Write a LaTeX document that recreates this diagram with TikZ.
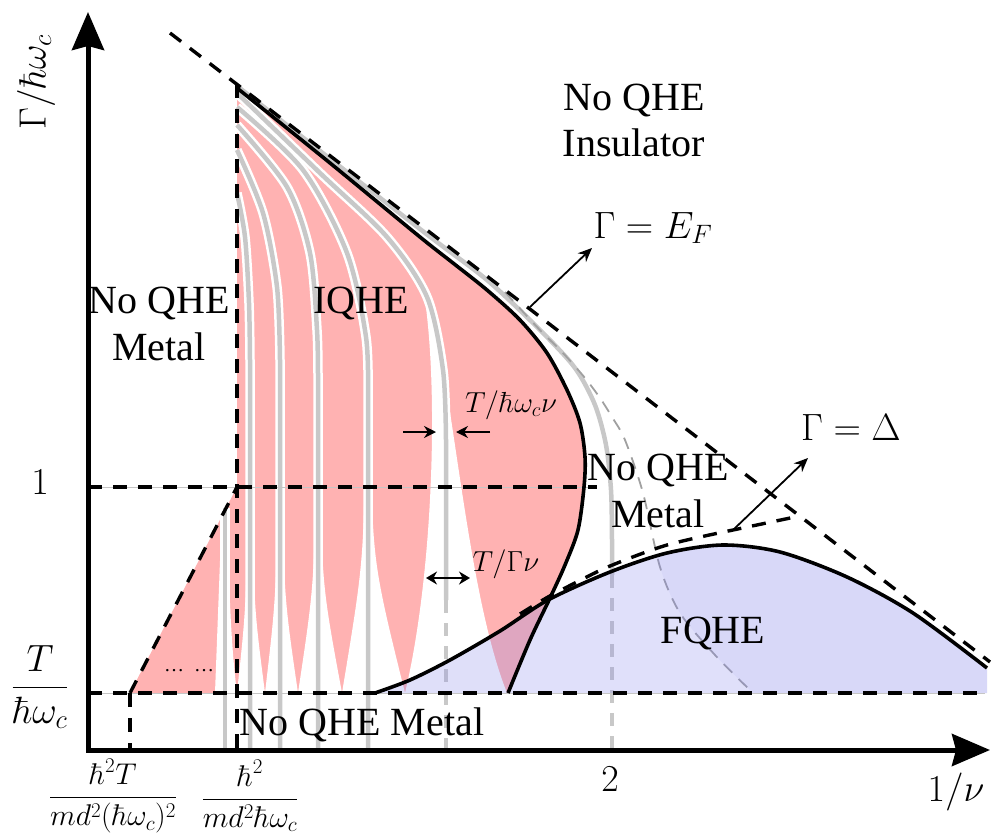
\RequirePackage{fix-cm}
\documentclass[tikz,border=0pt]{standalone}
\usepackage{amsmath}
\usepackage[no-math]{fontspec}
\setmainfont{Liberation Serif}
\usetikzlibrary{arrows.meta}
\definecolor{pinkq}{RGB}{255,178,178}
\definecolor{grayq}{RGB}{200,200,200}
\definecolor{grayd}{RGB}{160,160,160}
\definecolor{blueq}{RGB}{135,135,235}
\begin{document}
\begin{tikzpicture}[x=1pt,y=-1pt,
  txt/.style={font=\fontsize{40}{47}\selectfont, inner sep=0pt, anchor=base},
  mlab/.style={font=\fontsize{38}{44}\selectfont, inner sep=0pt},
  slab/.style={font=\fontsize{29}{34}\selectfont, inner sep=0pt},
  dsh/.style={line width=3.4pt, dash pattern=on 14pt off 11pt},
  grayln/.style={grayq, line width=4.5pt},
  halo/.style={white, line width=9.5pt},
  thinarr/.style={line width=1.8pt, -{Stealth[length=14pt,width=12pt]}},
  bound/.style={line width=3.6pt}]
\useasboundingbox (0,0) rectangle (998,840);

% IQHE pink region
\fill[pinkq] (130,693) -- (237,487) -- (237,88) -- plot[smooth] coordinates {(237,88) (330,163) (420,237) (453,263) (487,290) (520,320) (547,353) (567,390) (580,423) (585,457) (584,487) (578,530) (565,565) (550,598) (530,640) (508,693)} -- cycle;

% white wedges
\fill[white] (222,508) -- (215,693) -- (237,693) .. controls (230,640) and (228,560) .. (228,508) -- cycle;
\fill[white] (247,440) .. controls (247,600) .. (237,693) -- (265,693) .. controls (253,600) .. (253,440) -- cycle;
\fill[white] (277,430) .. controls (277,590) .. (265,693) -- (298,693) .. controls (283,590) .. (283,430) -- cycle;
\fill[white] (315,430) .. controls (315,580) .. (298,693) -- (342,693) .. controls (321,580) .. (321,430) -- cycle;
\fill[white] (365,420) .. controls (364,560) .. (342,693) -- (405,693) .. controls (372,560) .. (371,420) -- cycle;
\fill[white] (425,300) .. controls (439,400) and (432,580) .. (405,693) -- (507,693) .. controls (470,600) and (457,430) .. (431,300) -- cycle;

% gray curves: halos
\draw[halo] (225,508) -- (225,693);
\draw[halo] plot[smooth] coordinates {(237,193) (245,237) (249,303) (250,360)} -- (250,693);
\draw[halo] plot[smooth] coordinates {(237,150) (263,213) (277,287) (280,360)} -- (280,693);
\draw[halo] plot[smooth] coordinates {(237,125) (287,187) (310,253) (317,330) (318,380)} -- (318,693);
\draw[halo] plot[smooth] coordinates {(237,107) (303,170) (347,253) (366,337) (368,400)} -- (368,693);
\draw[halo] plot[smooth] coordinates {(237,93) (320,173) (387,237) (427,297) (443,370) (446,440)} -- (446,600);
% gray curves
\draw[grayln] (225,508) -- (225,750);
\draw[grayln] plot[smooth] coordinates {(237,193) (245,237) (249,303) (250,360)} -- (250,750);
\draw[grayln] plot[smooth] coordinates {(237,150) (263,213) (277,287) (280,360)} -- (280,750);
\draw[grayln] plot[smooth] coordinates {(237,125) (287,187) (310,253) (317,330) (318,380)} -- (318,750);
\draw[grayln] plot[smooth] coordinates {(237,107) (303,170) (347,253) (366,337) (368,400)} -- (368,750);
\draw[grayln] plot[smooth] coordinates {(237,93) (320,173) (387,237) (427,297) (443,370) (446,440)} -- (446,600);
\draw[grayln, dash pattern=on 13pt off 10pt] (446,600) -- (446,750);
\draw[grayln] plot[smooth] coordinates {(237,86) (420,229) (487,280) (540,330) (575,368) (595,405) (606,445) (611,490) (612,540) (612,575)};
\draw[grayln, dash pattern=on 13pt off 10pt] (612,575) -- (612,750);
\draw[grayd, line width=1.8pt, dash pattern=on 12pt off 9pt] plot[smooth] coordinates {(505,292) (538,328) (563,353) (585,378) (600,398) (612,417) (625,440) (643,493) (660,567) (680,613) (715,655) (753,693)};

% FQHE blue region
\fill[blueq, opacity=0.26] plot[smooth] coordinates {(375,693) (410,680) (450,660) (500,631) (548,600) (610,572) (667,553) (723,545) (780,552) (847,577) (913,613) (987,668)} -- (987,693) -- cycle;
\begin{scope}
\clip plot[smooth] coordinates {(375,693) (410,680) (450,660) (500,631) (548,600) (610,572) (667,553) (723,545) (780,552) (847,577) (913,613) (987,668)} -- (987,693) -- cycle;
\fill[blueq, opacity=0.09] plot[smooth] coordinates {(505,292) (538,328) (563,353) (585,378) (600,398) (612,417) (625,440) (643,493) (660,567) (680,613) (715,655) (753,693)} -- (998,693) -- (998,200) -- cycle;
\end{scope}

% thin guide lines under dashed horizontals
\draw[gray!45, line width=0.6pt] (88,487) -- (597,487);
\draw[gray!45, line width=0.6pt] (88,693) -- (985,693);

% boundaries
\draw[bound] plot[smooth] coordinates {(237,88) (330,163) (420,237) (453,263) (487,290) (520,320) (547,353) (567,390) (580,423) (585,457) (584,487) (578,530) (565,565) (550,598) (530,640) (508,693)};
\draw[bound] plot[smooth] coordinates {(375,693) (410,680) (450,660) (500,631) (548,600) (610,572) (667,553) (723,545) (780,552) (847,577) (913,613) (987,668)};

% dashed lines
\draw[dsh] (170,33) -- (990,662);
\draw[dsh] (88,487) -- (597,487);
\draw[dsh] (88,693) -- (985,693);
\draw[dsh] (237,84) -- (237,750);
\draw[dsh] (130,693) -- (130,750);
\draw[dsh] (130,693) -- (237,487);
\draw[dsh] plot[smooth] coordinates {(520,614) (548,597) (577,582) (610,566) (667,545) (733,530)} -- (795,517);

% axes
\coordinate (ytop) at (88,12);
\coordinate (orig) at (88,750);
\coordinate (xend) at (990,750);
\draw[line width=5pt, {Stealth[length=38pt,width=32pt,inset=4pt]}-{Stealth[length=38pt,width=32pt,inset=4pt]}] (ytop) -- (orig) -- (xend);

% label arrows
\coordinate (efA) at (530,307);
\coordinate (efB) at (592,248);
\draw[thinarr] (efA) -- (efB);
\coordinate (dA) at (733,530);
\coordinate (dB) at (808,458);
\draw[thinarr] (dA) -- (dB);
\coordinate (wA1) at (403,432);
\coordinate (wA2) at (436,432);
\coordinate (wB1) at (490,432);
\coordinate (wB2) at (456,432);
\draw[line width=1.6pt, -{Stealth[length=12pt,width=12pt]}] (wA1) -- (wA2);
\draw[line width=1.6pt, -{Stealth[length=12pt,width=12pt]}] (wB1) -- (wB2);
\coordinate (gA) at (426,578);
\coordinate (gB) at (470,578);
\draw[line width=1.6pt, {Stealth[length=11pt,width=13pt]}-{Stealth[length=11pt,width=13pt]}] (gA) -- (gB);

% texts
\node[txt, align=center] (ins) at (634,157) {No QHE\\Insulator};
\node[txt, align=center] (metL) at (159,360) {No QHE\\Metal};
\node[txt, align=center] (metR) at (658,527) {No QHE\\Metal};
\node[txt] (iqhe) at (361,313) {IQHE};
\node[txt] (fqhe) at (713,643) {FQHE};
\node[txt] (metB) at (362,735) {No QHE Metal};
\node[mlab] (ef) at (653,228) {$\Gamma = E_F$};
\node[mlab] (del) at (851,428) {$\Gamma = \Delta$};
\node[slab] (wl) at (511,405) {$T/\hbar\omega_c\nu$};
\node[slab] (gl) at (506,564) {$T/\Gamma\nu$};
\node[mlab, rotate=90] (ylab) at (36,82) {$\Gamma/\hbar\omega_c$};
\node[mlab] (xlab) at (956,792) {$1/\nu$};
\node[mlab] (one) at (40,482) {$1$};
\node[mlab] (two) at (610,779) {$2$};
\node[mlab] (tlab) at (40,687) {$\dfrac{T}{\hbar\omega_c}$};
\node[font=\fontsize{30}{36}\selectfont, inner sep=0pt] (f1) at (113,796) {$\dfrac{\hbar^2T}{md^2(\hbar\omega_c)^2}$};
\node[font=\fontsize{30}{36}\selectfont, inner sep=0pt] (f2) at (250,796) {$\dfrac{\hbar^2}{md^2\hbar\omega_c}$};
\node[font=\fontsize{20}{20}\selectfont, inner sep=0pt, anchor=base] (dots) at (189,671) {\ldots\hspace{10pt}\ldots};
\end{tikzpicture}
\end{document}
